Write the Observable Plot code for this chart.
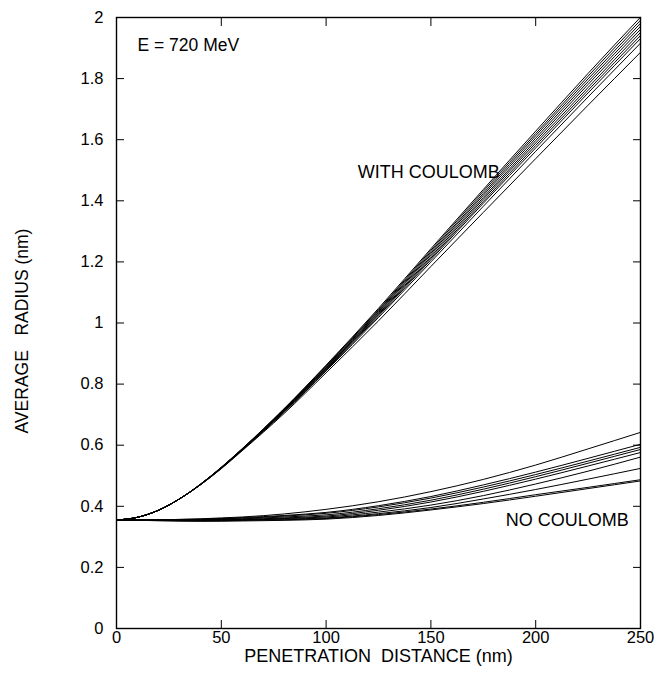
<!DOCTYPE html>
<html><head><meta charset="utf-8">
<script src="https://cdn.jsdelivr.net/npm/d3@7"></script>
<script src="https://cdn.jsdelivr.net/npm/@observablehq/plot@0.6"></script>
<style>
body{margin:0;background:#fff;}
#chart svg{display:block;}
</style>
</head><body><div id="chart"></div>
<script>
// penetration distance (nm) at which each run is sampled
const distance = [0, 10, 20, 30, 40, 50, 60, 80, 100, 125, 150, 175, 200, 225, 250];

// average radius (nm), runs WITH Coulomb interaction
const withCoulombRuns = [
  [0.355, 0.364, 0.387, 0.424, 0.472, 0.528, 0.589, 0.720, 0.862, 1.048, 1.243, 1.437, 1.628, 1.817, 2.001],
  [0.355, 0.364, 0.387, 0.424, 0.472, 0.527, 0.588, 0.719, 0.860, 1.044, 1.238, 1.431, 1.620, 1.808, 1.991],
  [0.355, 0.364, 0.387, 0.424, 0.472, 0.527, 0.588, 0.718, 0.858, 1.041, 1.233, 1.424, 1.613, 1.799, 1.981],
  [0.355, 0.364, 0.387, 0.424, 0.471, 0.527, 0.587, 0.716, 0.855, 1.037, 1.228, 1.418, 1.605, 1.790, 1.971],
  [0.355, 0.364, 0.387, 0.424, 0.471, 0.526, 0.586, 0.715, 0.853, 1.034, 1.223, 1.411, 1.597, 1.781, 1.961],
  [0.355, 0.364, 0.387, 0.424, 0.471, 0.526, 0.586, 0.713, 0.851, 1.030, 1.217, 1.405, 1.589, 1.771, 1.951],
  [0.355, 0.364, 0.387, 0.424, 0.471, 0.525, 0.585, 0.712, 0.849, 1.027, 1.212, 1.398, 1.581, 1.762, 1.941],
  [0.355, 0.364, 0.387, 0.424, 0.470, 0.525, 0.584, 0.710, 0.846, 1.023, 1.207, 1.392, 1.573, 1.753, 1.931],
  [0.355, 0.364, 0.387, 0.424, 0.470, 0.524, 0.584, 0.708, 0.843, 1.018, 1.200, 1.382, 1.562, 1.740, 1.916],
  [0.355, 0.364, 0.387, 0.424, 0.470, 0.523, 0.582, 0.704, 0.837, 1.007, 1.185, 1.362, 1.538, 1.713, 1.886]
];

// average radius (nm), runs WITHOUT Coulomb interaction
const noCoulombRuns = [
  [0.355, 0.355, 0.356, 0.357, 0.359, 0.362, 0.365, 0.375, 0.390, 0.415, 0.448, 0.488, 0.535, 0.588, 0.642],
  [0.355, 0.355, 0.356, 0.357, 0.358, 0.360, 0.363, 0.370, 0.380, 0.402, 0.432, 0.470, 0.512, 0.557, 0.603],
  [0.355, 0.355, 0.355, 0.356, 0.357, 0.359, 0.361, 0.368, 0.377, 0.398, 0.427, 0.463, 0.504, 0.548, 0.593],
  [0.355, 0.355, 0.355, 0.355, 0.356, 0.357, 0.359, 0.365, 0.372, 0.392, 0.420, 0.456, 0.497, 0.541, 0.586],
  [0.355, 0.355, 0.355, 0.355, 0.355, 0.356, 0.357, 0.362, 0.368, 0.387, 0.414, 0.449, 0.489, 0.532, 0.576],
  [0.355, 0.355, 0.354, 0.354, 0.354, 0.355, 0.356, 0.360, 0.365, 0.381, 0.404, 0.435, 0.473, 0.515, 0.561],
  [0.355, 0.354, 0.354, 0.353, 0.353, 0.354, 0.355, 0.358, 0.362, 0.376, 0.396, 0.424, 0.455, 0.489, 0.524],
  [0.355, 0.354, 0.353, 0.352, 0.352, 0.353, 0.354, 0.356, 0.360, 0.373, 0.391, 0.413, 0.438, 0.462, 0.487],
  [0.355, 0.354, 0.353, 0.352, 0.351, 0.351, 0.352, 0.354, 0.358, 0.370, 0.388, 0.409, 0.433, 0.458, 0.483]
];

const xTicks = [0, 50, 100, 150, 200, 250];
const yTicks = [0, 0.2, 0.4, 0.6, 0.8, 1, 1.2, 1.4, 1.6, 1.8, 2];

const xTitle = "PENETRATION\u00a0\u00a0DISTANCE (nm)";
const yTitle = "AVERAGE\u00a0\u00a0\u00a0RADIUS (nm)";
const energyLabel = "E = 720 MeV";
const withLabel = "WITH COULOMB";
const noLabel = "NO COULOMB";

// build tidy rows
const rows = [];
withCoulombRuns.forEach((run, i) => run.forEach((r, j) => rows.push({run: "with" + i, d: distance[j], r})));
noCoulombRuns.forEach((run, i) => run.forEach((r, j) => rows.push({run: "no" + i, d: distance[j], r})));

const font = "'Liberation Sans', Arial, Helvetica, sans-serif";

const chart = Plot.plot({
  width: 669,
  height: 677,
  marginLeft: 116,
  marginRight: 29,
  marginTop: 17,
  marginBottom: 49,
  style: {fontFamily: font, fontSize: "16px", color: "#000", background: "#fff"},
  x: {domain: [0, 250]},
  y: {domain: [0, 2]},
  marks: [
    Plot.line(rows, {x: "d", y: "r", z: "run", stroke: "#000", strokeWidth: 1, curve: "monotone-x"}),
    Plot.frame({stroke: "#000", strokeWidth: 1.4}),
    Plot.axisX({ticks: xTicks, tickSize: -8, tickPadding: 11, label: null, tickFormat: d => String(d), fontSize: 16.5}),
    Plot.axisX({anchor: "top", ticks: xTicks, tickSize: -8, label: null, tickFormat: () => ""}),
    Plot.axisY({ticks: yTicks, tickSize: -8, tickPadding: 21, label: null, tickFormat: d => String(d), fontSize: 16.5}),
    Plot.axisY({anchor: "right", ticks: yTicks, tickSize: -8, label: null, tickFormat: () => ""}),
    Plot.text([xTitle], {frameAnchor: "bottom", dy: 33, fontSize: 18, fill: "#000"}),
    Plot.text([yTitle], {frameAnchor: "left", textAnchor: "middle", dx: -94, dy: 8, rotate: -90, fontSize: 17.5, fill: "#000"}),
    Plot.text([energyLabel], {x: 10, y: 1.91, textAnchor: "start", fontSize: 17.5, fill: "#000"}),
    Plot.text([withLabel], {x: 149, y: 1.493, fontSize: 18, fill: "#000"}),
    Plot.text([noLabel], {x: 215, y: 0.354, fontSize: 18, fill: "#000"})
  ]
});
document.getElementById("chart").appendChild(chart);
</script>
</body></html>
